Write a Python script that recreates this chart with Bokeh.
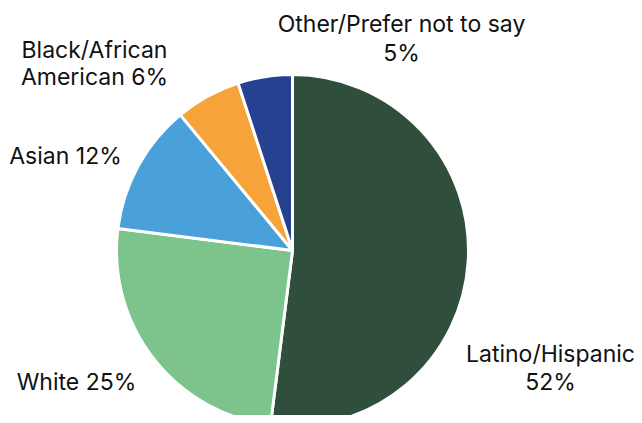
from bokeh.plotting import figure
from bokeh.models import Range1d, ColumnDataSource
from bokeh.embed import file_html
from bokeh.resources import INLINE
from bokeh.core.properties import value
import math

categories = ["Latino/Hispanic", "White", "Asian", "Black/African American", "Other/Prefer not to say"]
shares = [52, 25, 12, 6, 5]
colors = ["#2F4F3C", "#7CC48C", "#4AA0D8", "#F6A33A", "#25418F"]

W, H = 640, 415
p = figure(width=W, height=H, output_backend="svg", toolbar_location=None,
           x_range=Range1d(0, W), y_range=Range1d(0, H), min_border=0)
p.axis.visible = False
p.grid.visible = False
p.outline_line_color = None
p.background_fill_color = "white"

def X(px):
    return px

def Y(py):
    return H - py

cx, cy, r = X(292), Y(250), 176
total = sum(shares)
starts, ends = [], []
cum = 0
for s in shares:
    starts.append(math.pi / 2 - 2 * math.pi * cum / total)
    cum += s
    ends.append(math.pi / 2 - 2 * math.pi * cum / total)

src = ColumnDataSource(dict(start=starts, end=ends, color=colors))
p.wedge(x=cx, y=cy, radius=r, start_angle="start", end_angle="end", direction="clock",
        fill_color="color", line_color="white", line_width=3, source=src)

def lab(txt, x, y, align="center"):
    p.text(x=[X(x)], y=[Y(y)], text=[txt], text_font=value("Inter"), text_font_size="23px",
           text_color="#111111", text_align=align, text_baseline="middle")

lab("Latino/Hispanic", 550, 353)
lab(f"{shares[0]}%", 550, 381)
lab(f"White {shares[1]}%", 76, 381)
lab(f"Asian {shares[2]}%", 65, 155)
lab("Black/African", 94, 49)
lab(f"American {shares[3]}%", 94, 76)
lab("Other/Prefer not to say", 401, 23)
lab(f"{shares[4]}%", 401, 52)

open("out.html", "w").write(file_html(p, INLINE))
